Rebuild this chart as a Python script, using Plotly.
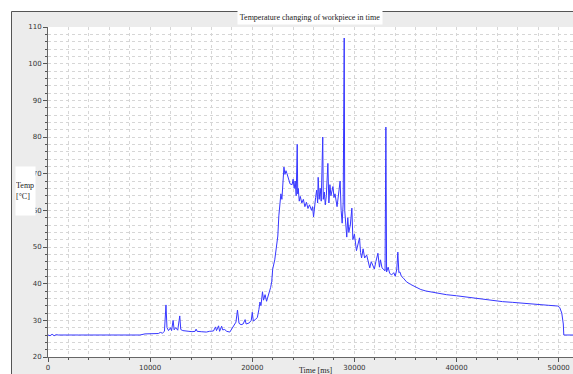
import plotly.graph_objects as go

time_ms = [0, 200, 400, 600, 800, 1000, 3000, 6000, 9000, 9500, 10000, 10500, 10800, 11000, 11200, 11400,
           11550, 11650, 11800, 12000, 12100, 12250, 12350, 12500, 12700, 12900, 13000, 13200, 13500, 13800,
           14100, 14400, 14500, 14600, 15000, 15500, 15800, 16200, 16400, 16500, 16700, 16800, 17000, 17100,
           17300, 17500, 17800, 18100, 18400, 18550, 18700, 18900, 19100, 19300, 19400, 19700, 19900, 20000,
           20100, 20300, 20500, 20650, 20750, 20850, 21000, 21100, 21250, 21400, 21600, 21800, 21900, 22000,
           22200, 22400, 22500, 22600, 22700, 22800, 22900, 23000, 23100, 23200, 23300, 23400, 23500, 23600,
           23700, 23900, 24000, 24100, 24200, 24300, 24400, 24450, 24500, 24600, 24700, 24850, 25000, 25150,
           25300, 25450, 25600, 25800, 25900, 26000, 26100, 26200, 26300, 26400, 26450, 26550, 26650, 26750,
           26900, 26950, 27050, 27150, 27250, 27400, 27500, 27600, 27700, 27800, 27900, 28000, 28100, 28300,
           28450, 28600, 28700, 28800, 28900, 28950, 29000, 29050, 29150, 29250, 29350, 29450, 29600, 29750,
           29850, 30000, 30200, 30350, 30500, 30600, 30700, 30850, 31000, 31200, 31350, 31500, 31650, 31800,
           31950, 32100, 32300, 32450, 32550, 32700, 32850, 33000, 33080, 33150, 33300, 33450, 33650, 33850,
           34000, 34150, 34250, 34350, 34450, 34600, 34800, 35100, 35500, 36000, 36500, 37000, 37400, 38000,
           39000, 40000, 41000, 42300, 43500, 44500, 45500, 46200, 47000, 48000, 49000, 49900, 50100, 50300,
           50450, 50500, 51400]

temp_c = [26.0, 25.8, 26.2, 25.8, 26.1, 26.0, 26.0, 26.0, 26.0, 26.3, 26.4, 26.5, 26.4, 26.7, 26.5, 27.0,
          34.2, 28.0, 27.2, 28.0, 27.2, 30.0, 27.4, 28.0, 27.3, 31.2, 27.5, 27.2, 27.0, 27.0,
          26.9, 27.0, 27.6, 27.0, 26.9, 26.8, 27.0, 27.1, 28.2, 27.2, 28.5, 27.0, 28.4, 27.4,
          27.5, 27.0, 26.8, 28.0, 29.5, 32.8, 29.2, 28.8, 29.0, 30.2, 29.0, 29.3, 30.0, 32.2,
          29.8, 30.2, 30.8, 33.0, 35.0, 34.0, 37.8, 35.5, 37.0, 35.2, 37.0, 39.0, 40.5, 44.0,
          46.5, 50.0, 53.0, 58.5, 61.0, 64.5, 63.0, 68.0, 71.8, 69.8, 70.8, 70.0, 69.2, 68.0,
          67.2, 67.0, 68.5, 66.0, 68.0, 64.0, 78.0, 64.5, 66.0, 62.5, 63.8, 62.0, 63.0, 61.0,
          62.2, 60.5, 61.5, 60.0, 61.0, 58.2, 62.0, 63.5, 65.5, 62.0, 69.0, 63.0, 66.0, 62.5,
          80.0, 63.0, 65.0, 61.5, 64.0, 72.8, 62.0, 67.0, 64.0, 65.5, 66.5, 63.5, 64.5, 61.0,
          64.0, 68.0, 60.0, 56.5, 62.0, 93.0, 107.0, 60.0, 57.0, 52.7, 58.0, 54.0, 56.0, 60.6,
          52.0, 53.5, 49.0, 50.5, 52.5, 48.5, 47.0, 49.5, 47.0, 47.8, 45.5, 44.3, 46.0, 45.0,
          44.0, 46.0, 48.3, 44.5, 46.5, 44.3, 43.8, 43.5, 82.7, 43.2, 44.5, 42.8, 42.4, 43.0,
          42.0, 44.0, 48.6, 43.0, 43.2, 42.0, 41.5, 40.5, 39.8, 39.0, 38.4, 38.0, 37.8, 37.4,
          37.0, 36.7, 36.3, 35.8, 35.4, 35.1, 34.9, 34.7, 34.5, 34.3, 34.1, 33.9, 33.5, 32.0,
          29.0, 26.0, 26.0]

x_tickvals = [0, 10000, 20000, 30000, 40000, 50000]
y_tickvals = [20, 30, 40, 50, 60, 70, 80, 90, 100, 110]

W, H = 573, 374
L, R, T, B = 48, 0, 27, 17
pw, ph = W - L - R, H - T - B


def px(x):
    return (x - L) / pw


def py(y):
    return (H - B - y) / ph


fig = go.Figure()
fig.add_trace(go.Scatter(x=time_ms, y=temp_c, mode="lines",
                         line=dict(color="rgb(55,55,255)", width=1), showlegend=False))

grid = "#d6d6d6"
gdash = "3px,3px"
fig.update_layout(
    width=W, height=H,
    margin=dict(l=L, r=R, t=T, b=B, pad=0),
    paper_bgcolor="#ececec",
    plot_bgcolor="white",
    xaxis=dict(range=[0, 51400], tickvals=x_tickvals, ticktext=[str(v) for v in x_tickvals],
               showgrid=True, gridcolor=grid, griddash=gdash, gridwidth=1,
               ticks="outside", ticklen=4, tickcolor="#555", showline=True, linecolor="#666",
               zeroline=False, automargin=False,
               tickfont=dict(family="DejaVu Sans", size=7, color="#333"),
               minor=dict(dtick=2000, tick0=0, showgrid=True, gridcolor=grid, griddash=gdash,
                          ticks="outside", ticklen=2, tickcolor="#555")),
    yaxis=dict(range=[20, 110], tickvals=y_tickvals, ticktext=[str(v) for v in y_tickvals],
               showgrid=True, gridcolor=grid, griddash=gdash, gridwidth=1,
               ticks="outside", ticklen=4, tickcolor="#555", showline=True, linecolor="#666",
               zeroline=False, automargin=False,
               tickfont=dict(family="DejaVu Sans", size=7, color="#333"),
               minor=dict(dtick=2, tick0=20, showgrid=True, gridcolor=grid, griddash=gdash,
                          ticks="outside", ticklen=2, tickcolor="#555")),
    shapes=[
        dict(type="rect", xref="paper", yref="paper", x0=px(-2), x1=px(W + 2), y0=py(11), y1=py(-2),
             fillcolor="white", line=dict(width=0), layer="above"),
        dict(type="rect", xref="paper", yref="paper", x0=px(-2), x1=px(11), y0=py(H + 2), y1=py(-2),
             fillcolor="white", line=dict(width=0), layer="above"),
        dict(type="line", xref="paper", yref="paper", x0=px(11.5), x1=px(W + 2), y0=py(11.5), y1=py(11.5),
             line=dict(color="#555", width=1), layer="above"),
        dict(type="line", xref="paper", yref="paper", x0=px(11.5), x1=px(11.5), y0=py(11.5), y1=py(H + 2),
             line=dict(color="#555", width=1), layer="above"),
    ],
    annotations=[
        dict(text="Temperature changing of workpiece in time", xref="paper", yref="paper",
             x=px(310), y=py(18), xanchor="center", yanchor="middle", showarrow=False,
             bgcolor="white", width=142, height=11,
             font=dict(family="Liberation Serif", size=8, color="#222")),
        dict(text="Temp<br>[°C]", xref="paper", yref="paper", x=px(15), y=py(191),
             xanchor="left", yanchor="middle", showarrow=False, align="left",
             bgcolor="white", width=19, height=48, borderpad=0,
             font=dict(family="Liberation Serif", size=8, color="#222")),
        dict(text="Time [ms]", xref="paper", yref="paper", x=px(316), y=py(370),
             xanchor="center", yanchor="middle", showarrow=False,
             font=dict(family="Liberation Serif", size=8, color="#222")),
    ],
)

fig.write_html("out.html", config={"displayModeBar": False},
               post_script="document.body.style.margin='0';document.body.style.overflow='hidden';")
